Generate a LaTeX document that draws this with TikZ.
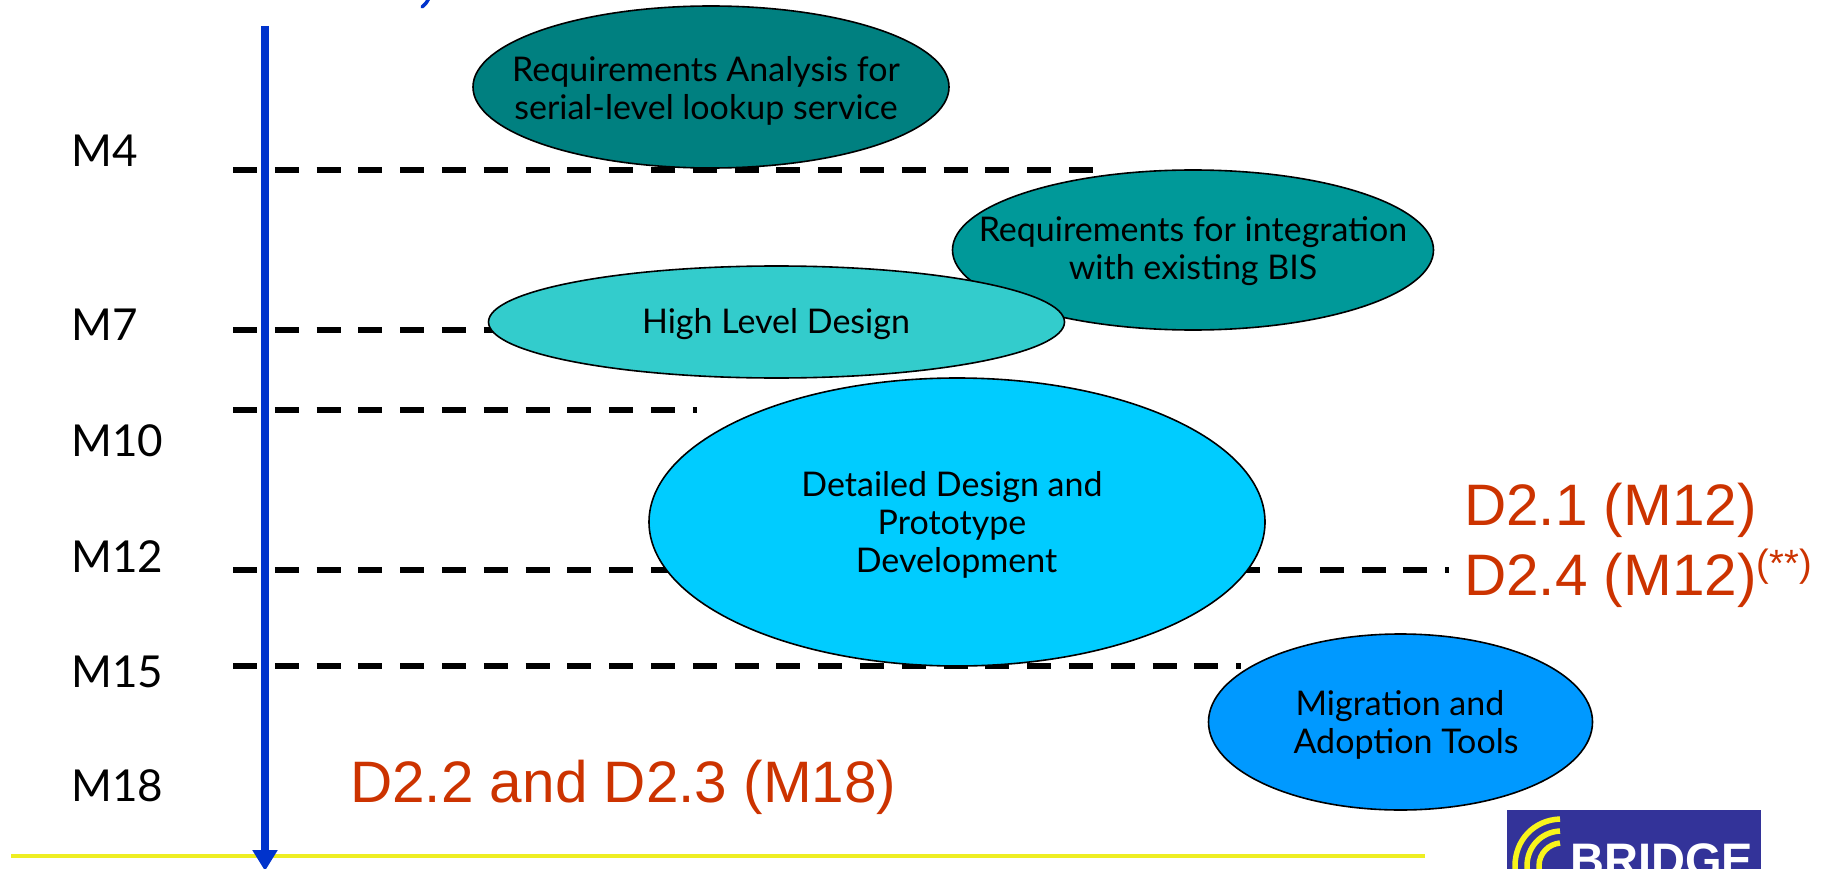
\documentclass[tikz,border=0pt]{standalone}
\usepackage{fontspec}
\setmainfont{Lato}
\newfontfamily\redfont{Liberation Sans}
\usetikzlibrary{shapes.geometric,arrows.meta}
\definecolor{eA}{HTML}{008080}
\definecolor{eB}{HTML}{009999}
\definecolor{eC}{HTML}{33CCCC}
\definecolor{eD}{HTML}{00CCFF}
\definecolor{eE}{HTML}{0099FF}
\definecolor{redtxt}{HTML}{CC3300}
\definecolor{axisblue}{HTML}{0033CC}
\definecolor{ruleyellow}{HTML}{EEEE22}
\definecolor{logoblue}{HTML}{333399}
\definecolor{logoyellow}{HTML}{F8F41C}
\tikzset{
  x=1pt,y=-1pt,
  phase/.style={ellipse,draw=black,line width=1.6pt,inner sep=0pt},
  phasetext/.style={align=center,inner sep=0pt,font=\fontsize{34}{38}\selectfont},
  month/.style={font=\fontsize{44}{44}\selectfont,anchor=base west,inner sep=0pt},
  deliv/.style={font=\redfont\fontsize{58.5}{60}\selectfont,text=redtxt,anchor=base west,inner sep=0pt},
  mile/.style={line width=6.5pt,draw=black,dash pattern=on 24pt off 17.8pt},
  logoarc/.style={draw=logoyellow,line width=5.5pt},
}
\begin{document}
\begin{tikzpicture}
\useasboundingbox (0,0) rectangle (1830,869);
\clip (0,0) rectangle (1830,869);
% milestone lines
\coordinate (m4a) at (233,170); \coordinate (m4b) at (1094,170);
\coordinate (m7a) at (233,330); \coordinate (m7b) at (500,330);
\coordinate (m10a) at (233,410); \coordinate (m10b) at (697,410);
\coordinate (m12a) at (233,570); \coordinate (m12b) at (1449,570);
\coordinate (m15a) at (233,666); \coordinate (m15b) at (1241,666);
\draw[mile] (m4a) -- (m4b);
\draw[mile] (m7a) -- (m7b);
\draw[mile] (m10a) -- (m10b);
\draw[mile] (m12a) -- (m12b);
\draw[mile] (m15a) -- (m15b);
% phases
\node[phase,fill=eA,minimum width=476pt,minimum height=162pt] (ra) at (711,87) {};
\node[phasetext] (rat) at (706,90.5) {Requirements Analysis for\\serial-level lookup service};
\node[phase,fill=eB,minimum width=481pt,minimum height=160pt] (ri) at (1193,250) {};
\node[phasetext] (rit) at (1193,251.5) {Requirements for integration\\with existing BIS};
\node[phase,fill=eC,minimum width=576pt,minimum height=112pt] (hl) at (776.5,322) {};
\node[phasetext] (hlt) at (776,324) {High Level Design};
\node[phase,fill=eD,minimum width=616pt,minimum height=288pt] (dd) at (957,522) {};
\node[phasetext] (ddt) at (952,524.5) {Detailed Design and\\Prototype\\\hspace*{9pt}Development};
\node[phase,fill=eE,minimum width=384pt,minimum height=176pt] (mg) at (1400.5,722) {};
\node[phasetext] (mgt) at (1400,724.5) {Migration and\\\hspace*{12pt}Adoption Tools};
% time axis
\coordinate (axtop) at (265,26);
\coordinate (axbot) at (265,871);
\coordinate (yl) at (11,856);
\coordinate (yr) at (1425,856);
\draw[ruleyellow,line width=4pt] (yl) -- (yr);
\draw[axisblue,line width=8pt,-{Triangle[length=21pt,width=24pt]}] (axtop) -- (axbot);
% clipped heading fragment
\draw[axisblue,line width=3.5pt,line cap=round] (429,-2) .. controls (427,2) and (425,5) .. (422,7);
% month labels
\node[month] (l4) at (71,167) {M4};
\node[month] (l7) at (71,340) {M7};
\node[month] (l10) at (71,456.5) {M10};
\node[month] (l12) at (71,572) {M12};
\node[month] (l15) at (71,687.5) {M15};
\node[month] (l18) at (71,801) {M18};
% deliverables
\node[deliv] (d1) at (1464,525) {D2.1 (M12)};
\node[deliv] (d4) at (1464,595) {D2.4 (M12)\raisebox{19pt}{\fontsize{38}{38}\selectfont(**)}};
\node[deliv] (d2) at (350,802) {D2.2 and D2.3 (M18)};
% logo
\node[fill=logoblue,anchor=north west,minimum width=254pt,minimum height=59pt,inner sep=0pt] (logo) at (1507,810) {};
\draw[logoarc] (1560,819) .. controls (1534,820) and (1515,840) .. (1515,866) -- (1515,880);
\draw[logoarc] (1560,831) .. controls (1541,832) and (1527,847) .. (1527,866) -- (1527,880);
\draw[logoarc] (1560,843) .. controls (1549,844) and (1539,853) .. (1539,866) -- (1539,880);
\node[anchor=base west,inner sep=0pt,text=white,font=\redfont\bfseries\fontsize{47}{47}\selectfont] (logot) at (1570,876) {BRIDGE};
\end{tikzpicture}
\end{document}
